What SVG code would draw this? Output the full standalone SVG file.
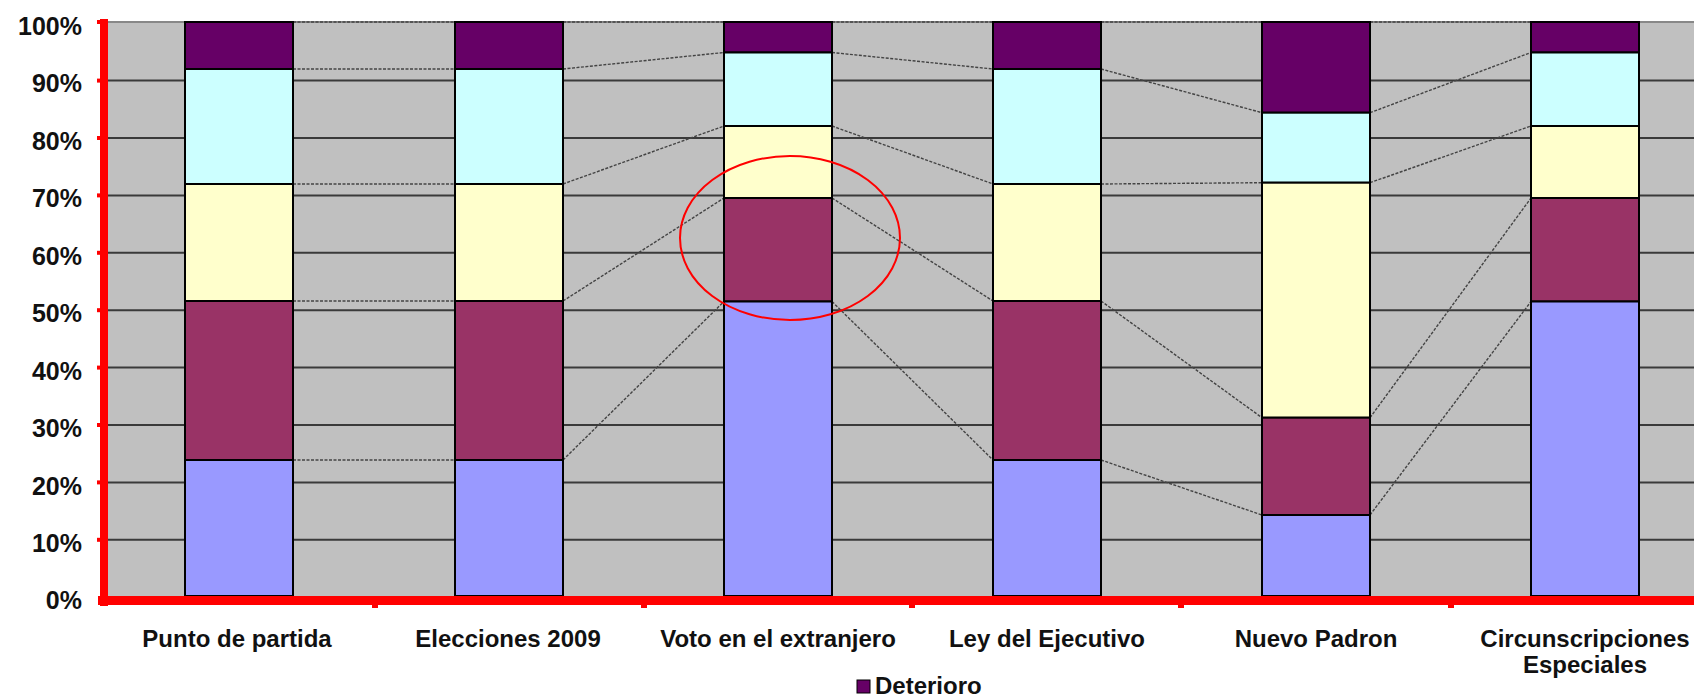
<svg xmlns="http://www.w3.org/2000/svg" width="1694" height="697" viewBox="0 0 1694 697">
<style>
.grid{stroke:#3a3a3a;stroke-width:2}
.seg{stroke:#000;stroke-width:2}
.s1{fill:#9999FF}.s2{fill:#993366}.s3{fill:#FFFFCC}.s4{fill:#CCFFFF}.s5{fill:#660066}
.conn{stroke:#444;stroke-width:1.4;stroke-dasharray:3 1.5;fill:none}
.ylab{font-family:"Liberation Sans",Arial,sans-serif;font-weight:bold;font-size:25px;fill:#111;text-anchor:end}
.xlab{font-family:"Liberation Sans",Arial,sans-serif;font-weight:bold;font-size:24px;fill:#111;text-anchor:middle}
.axis{fill:#FF0000}
</style>
<rect width="1694" height="697" fill="#fff"/>
<g id="plot">
<rect x="107" y="22" width="1587" height="574" fill="#C0C0C0"/>
<line x1="107" y1="22" x2="1694" y2="22" stroke="#888" stroke-width="2"/>
<g class="grid">
<line x1="107" y1="80.6" x2="1694" y2="80.6"/>
<line x1="107" y1="138" x2="1694" y2="138"/>
<line x1="107" y1="195.4" x2="1694" y2="195.4"/>
<line x1="107" y1="252.8" x2="1694" y2="252.8"/>
<line x1="107" y1="310.2" x2="1694" y2="310.2"/>
<line x1="107" y1="367.6" x2="1694" y2="367.6"/>
<line x1="107" y1="425" x2="1694" y2="425"/>
<line x1="107" y1="482.4" x2="1694" y2="482.4"/>
<line x1="107" y1="539.8" x2="1694" y2="539.8"/>
</g>
</g>
<g id="connectors">
<polyline class="conn" points="293,22 455,22"/>
<polyline class="conn" points="293,69 455,69"/>
<polyline class="conn" points="293,184 455,184"/>
<polyline class="conn" points="293,301 455,301"/>
<polyline class="conn" points="293,460 455,460"/>
<polyline class="conn" points="563,22 724,22"/>
<polyline class="conn" points="563,69 724,52.5"/>
<polyline class="conn" points="563,184 724,126"/>
<polyline class="conn" points="563,301 724,198"/>
<polyline class="conn" points="563,460 724,301.5"/>
<polyline class="conn" points="832,22 993,22"/>
<polyline class="conn" points="832,52.5 993,69"/>
<polyline class="conn" points="832,126 993,184"/>
<polyline class="conn" points="832,198 993,301"/>
<polyline class="conn" points="832,301.5 993,460"/>
<polyline class="conn" points="1101,22 1262,22"/>
<polyline class="conn" points="1101,69 1262,112.7"/>
<polyline class="conn" points="1101,184 1262,182.7"/>
<polyline class="conn" points="1101,301 1262,417.7"/>
<polyline class="conn" points="1101,460 1262,515"/>
<polyline class="conn" points="1370,22 1531,22"/>
<polyline class="conn" points="1370,112.7 1531,52.5"/>
<polyline class="conn" points="1370,182.7 1531,126"/>
<polyline class="conn" points="1370,417.7 1531,198"/>
<polyline class="conn" points="1370,515 1531,301.5"/>
</g>
<g id="bar-punto-de-partida">
<rect class="seg s5" x="185" y="22" width="108" height="47"/>
<rect class="seg s4" x="185" y="69" width="108" height="115"/>
<rect class="seg s3" x="185" y="184" width="108" height="117"/>
<rect class="seg s2" x="185" y="301" width="108" height="159"/>
<rect class="seg s1" x="185" y="460" width="108" height="136"/>
</g>
<g id="bar-elecciones-2009">
<rect class="seg s5" x="455" y="22" width="108" height="47"/>
<rect class="seg s4" x="455" y="69" width="108" height="115"/>
<rect class="seg s3" x="455" y="184" width="108" height="117"/>
<rect class="seg s2" x="455" y="301" width="108" height="159"/>
<rect class="seg s1" x="455" y="460" width="108" height="136"/>
</g>
<g id="bar-voto-extranjero">
<rect class="seg s5" x="724" y="22" width="108" height="30.5"/>
<rect class="seg s4" x="724" y="52.5" width="108" height="73.5"/>
<rect class="seg s3" x="724" y="126" width="108" height="72"/>
<rect class="seg s2" x="724" y="198" width="108" height="103.5"/>
<rect class="seg s1" x="724" y="301.5" width="108" height="294.5"/>
</g>
<g id="bar-ley-ejecutivo">
<rect class="seg s5" x="993" y="22" width="108" height="47"/>
<rect class="seg s4" x="993" y="69" width="108" height="115"/>
<rect class="seg s3" x="993" y="184" width="108" height="117"/>
<rect class="seg s2" x="993" y="301" width="108" height="159"/>
<rect class="seg s1" x="993" y="460" width="108" height="136"/>
</g>
<g id="bar-nuevo-padron">
<rect class="seg s5" x="1262" y="22" width="108" height="90.7"/>
<rect class="seg s4" x="1262" y="112.7" width="108" height="70"/>
<rect class="seg s3" x="1262" y="182.7" width="108" height="235"/>
<rect class="seg s2" x="1262" y="417.7" width="108" height="97.3"/>
<rect class="seg s1" x="1262" y="515" width="108" height="81"/>
</g>
<g id="bar-circunscripciones">
<rect class="seg s5" x="1531" y="22" width="108" height="30.5"/>
<rect class="seg s4" x="1531" y="52.5" width="108" height="73.5"/>
<rect class="seg s3" x="1531" y="126" width="108" height="72"/>
<rect class="seg s2" x="1531" y="198" width="108" height="103.5"/>
<rect class="seg s1" x="1531" y="301.5" width="108" height="294.5"/>
</g>
<g id="highlight">
<ellipse cx="790" cy="238" rx="110" ry="82" fill="none" stroke="#FF0000" stroke-width="2"/>
</g>
<g id="axes">
<rect class="axis" x="100" y="19" width="8" height="587"/>
<rect class="axis" x="98" y="596" width="1596" height="9"/>
<g class="axis">
<rect x="97" y="20" width="5" height="4"/>
<rect x="97" y="78.6" width="5" height="4"/>
<rect x="97" y="136" width="5" height="4"/>
<rect x="97" y="193.4" width="5" height="4"/>
<rect x="97" y="250.8" width="5" height="4"/>
<rect x="97" y="308.2" width="5" height="4"/>
<rect x="97" y="365.6" width="5" height="4"/>
<rect x="97" y="423" width="5" height="4"/>
<rect x="97" y="480.4" width="5" height="4"/>
<rect x="97" y="537.8" width="5" height="4"/>
<rect x="372" y="603" width="6" height="5"/>
<rect x="641" y="603" width="6" height="5"/>
<rect x="909" y="603" width="6" height="5"/>
<rect x="1178" y="603" width="6" height="5"/>
<rect x="1448" y="603" width="6" height="5"/>
</g>
</g>
<g id="y-labels">
<text class="ylab" x="82" y="34.5">100%</text>
<text class="ylab" x="82" y="92">90%</text>
<text class="ylab" x="82" y="149.5">80%</text>
<text class="ylab" x="82" y="207">70%</text>
<text class="ylab" x="82" y="264.5">60%</text>
<text class="ylab" x="82" y="322">50%</text>
<text class="ylab" x="82" y="379.5">40%</text>
<text class="ylab" x="82" y="437">30%</text>
<text class="ylab" x="82" y="494.5">20%</text>
<text class="ylab" x="82" y="552">10%</text>
<text class="ylab" x="82" y="609">0%</text>
</g>
<g id="x-labels">
<text class="xlab" x="237" y="647">Punto de partida</text>
<text class="xlab" x="508" y="647">Elecciones 2009</text>
<text class="xlab" x="778" y="647">Voto en el extranjero</text>
<text class="xlab" x="1047" y="647">Ley del Ejecutivo</text>
<text class="xlab" x="1316" y="647">Nuevo Padron</text>
<text class="xlab" x="1585" y="647">Circunscripciones</text>
<text class="xlab" x="1585" y="673">Especiales</text>
</g>
<g id="legend">
<rect x="857" y="680" width="13" height="13" fill="#660066" stroke="#000" stroke-width="1"/>
<text x="875" y="694" font-family="'Liberation Sans',Arial,sans-serif" font-weight="bold" font-size="24" fill="#111">Deterioro</text>
</g>
</svg>
